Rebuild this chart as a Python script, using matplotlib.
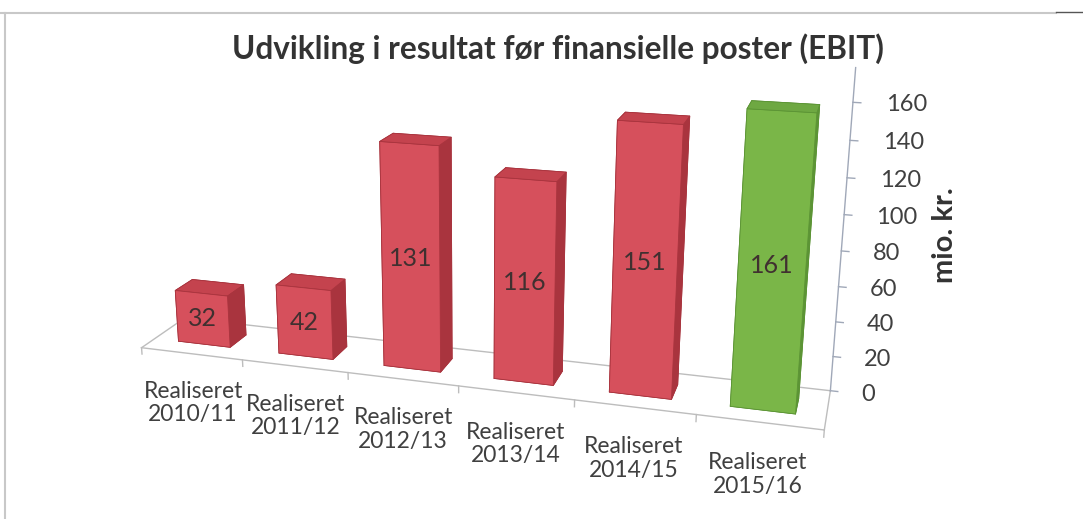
import matplotlib
matplotlib.use("Agg")
from matplotlib import pyplot as plt
from matplotlib.lines import Line2D

# data
perioder = ["Realiseret\n2010/11", "Realiseret\n2011/12", "Realiseret\n2012/13",
            "Realiseret\n2013/14", "Realiseret\n2014/15", "Realiseret\n2015/16"]
ebit = [32, 42, 131, 116, 151, 161]
z_ticks = [0, 20, 40, 60, 80, 100, 120, 140, 160]

# farver: front, side, top
roed = ("#D6505C", "#A9343E", "#C4434E")
groen = ("#7AB648", "#5C9435", "#6EA842")
farver = [roed] * 5 + [groen]

plt.rcParams["font.family"] = ["Lato", "DejaVu Sans"]

fig = plt.figure(figsize=(10.83, 5.19), dpi=100, facecolor="white")
ax = fig.add_axes([-0.07, 0.05, 1.0, 1.0], projection="3d")
ax.set_proj_type("persp", focal_length=0.5)
ax.view_init(elev=16.5, azim=-73)

n = len(ebit)
x0, x1 = -0.5, n - 0.5
z_max = 168
ax.set_xlim(x0, x1)
ax.set_ylim(0, 1)
ax.set_zlim(0, z_max)
ax.set_box_aspect((7.4, 1.0, 3.17), zoom=1.46)
ax.set_axis_off()

# bars
bredde, dybde = 0.52, 0.4
for i, v in enumerate(ebit):
    front, side, top = farver[i]
    # ordre: bund, top, front, bag, venstre, hoejre
    ax.bar3d(i - bredde / 2, 0.3, 0, bredde, dybde, v,
             color=[side, top, front, side, side, side],
             shade=False, edgecolor=side, linewidth=0.6)
    ax.text(i, 0.3, v / 2, str(v), ha="center", va="center",
            fontsize=18, color="#403030", zorder=100)

# gulv
graa = "#BDBDBD"
ax.plot([x0, x1], [0, 0], [0, 0], color=graa, lw=1, zorder=1)
ax.plot([x0, x1], [1, 1], [0, 0], color=graa, lw=1, zorder=1)
ax.plot([x0, x0], [0, 1], [0, 0], color=graa, lw=1, zorder=1)
ax.plot([x1, x1], [0, 1], [0, 0], color=graa, lw=1, zorder=1)
for i in range(n + 1):
    b = x0 + i
    ax.plot([b, b], [0, 0], [0, -4], color=graa, lw=1, zorder=1)

# vaerdiakse
akse = "#A0A8B8"
ax.plot([x1, x1], [1, 1], [0, z_max + 10], color=akse, lw=1, zorder=1)
for z in z_ticks:
    ax.plot([x1, x1 + 0.06], [1, 1], [z, z], color=akse, lw=1, zorder=1)
    ax.text(x1 + 0.25, 1, z, str(z), ha="left", va="center",
            fontsize=17, color="#404040", zorder=100)

# kategorier
for i, p in enumerate(perioder):
    ax.text(i, 0, -17, p, ha="center", va="top", fontsize=16.5,
            color="#404040", linespacing=1.15, zorder=100)

# 3d-akserne er kvadratiske, saa intet maa klippes
for kunstner in ax.collections + ax.lines + ax.texts:
    kunstner.set_clip_on(False)

fig.text(0.515, 0.907, "Udvikling i resultat før finansielle poster (EBIT)",
         ha="center", va="center", fontsize=22.7, fontweight="bold", color="#333333")
fig.text(0.873, 0.547, "mio. kr.", rotation=90, ha="center", va="center",
         fontsize=21, fontweight="bold", color="#333333")

# ramme
fig.add_artist(Line2D([0.0, 0.975], [0.975, 0.975], color="#C8C8C8", lw=1.5))
fig.add_artist(Line2D([0.0046, 0.0046], [0.0, 0.975], color="#C8C8C8", lw=1.5))
fig.add_artist(Line2D([0.975, 1.0], [0.977, 0.977], color="#555555", lw=1))

fig.savefig("out.png", dpi=100, facecolor="white")
